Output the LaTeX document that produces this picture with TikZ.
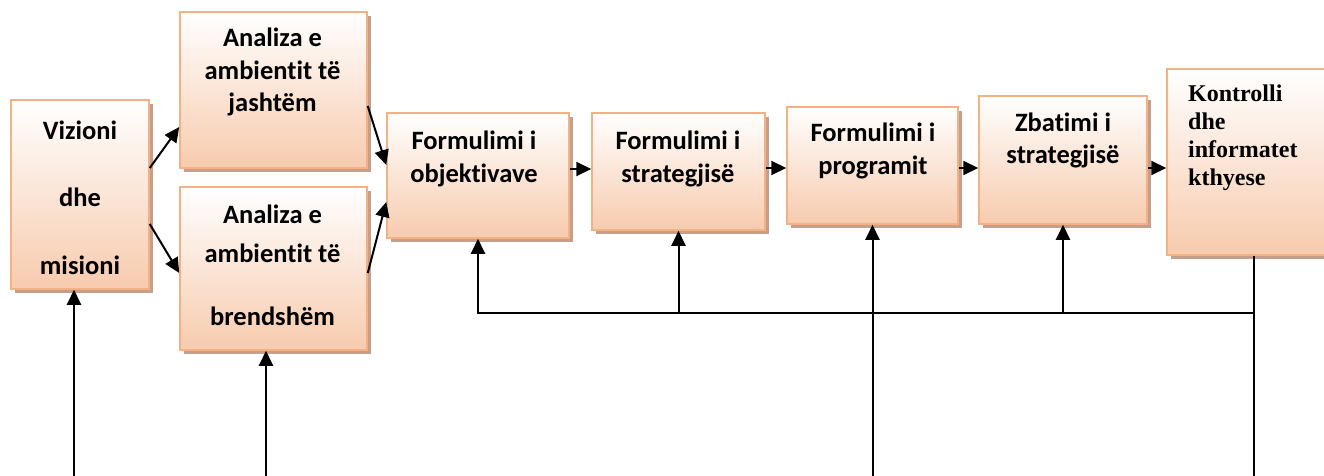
\documentclass[tikz,border=0pt]{standalone}
\usepackage{fontspec}
\setmainfont{Carlito}[Ligatures=NoCommon]
\newfontfamily\serifbold{Liberation Serif}
\usetikzlibrary{arrows.meta, shadows}
\definecolor{boxline}{RGB}{244,177,131}
\definecolor{boxfill}{RGB}{247,203,174}
\definecolor{boxshade}{RGB}{196,160,140}
\tikzset{
    > = {Triangle[length=15pt, width=14pt]},
    box/.style = {draw=boxline, line width=1.5pt, top color=white, bottom color=boxfill,
        drop shadow={shadow xshift=4pt, shadow yshift=-4pt, fill=boxshade, opacity=1},
        inner sep=0pt},
    boxtext/.style = {align=center, inner sep=0pt, anchor=base},
    flow/.style = {->, line width=2pt},
    link/.style = {line width=1.6pt}
}

\begin{document}
\begin{tikzpicture}[x=1pt, y=-1pt]
    \useasboundingbox (0,0) rectangle (1324,476);
    \clip (0,0) rectangle (1324,476);

    \node[box, minimum width=138pt, minimum height=189pt] (viz) at (80,194.5) {};
    \node[box, minimum width=187pt, minimum height=156pt] (ext) at (273.5,90) {};
    \node[box, minimum width=187pt, minimum height=163pt] (int) at (273.5,268.5) {};
    \node[box, minimum width=182pt, minimum height=125pt] (obj) at (478,175.5) {};
    \node[box, minimum width=173pt, minimum height=117pt] (str) at (678.5,171.5) {};
    \node[box, minimum width=171pt, minimum height=117pt] (prog) at (872.5,165.5) {};
    \node[box, minimum width=168pt, minimum height=128pt] (zb) at (1063,160) {};
    \node[box, minimum width=170pt, minimum height=186pt] (kon) at (1252,162) {};

    \node[boxtext, font=\fontsize{26.5}{67.5}\selectfont\bfseries] (viz-t) at (80,274) {Vizioni\\dhe\\misioni};
    \node[boxtext, font=\fontsize{26.5}{32.5}\selectfont\bfseries] (ext-t) at (272.5,112) {Analiza e\\ambientit të\\jashtëm};
    \node[boxtext, font=\fontsize{26.5}{38.5}\selectfont\bfseries] (int-t) at (272.5,325) {Analiza e\\ambientit të\\[24.5pt]brendshëm};
    \node[boxtext, font=\fontsize{26.5}{32.5}\selectfont\bfseries] (obj-t) at (474,182) {Formulimi i\\objektivave};
    \node[boxtext, font=\fontsize{26.5}{32.5}\selectfont\bfseries] (str-t) at (678,182) {Formulimi i\\strategjisë};
    \node[boxtext, font=\fontsize{26.5}{32.5}\selectfont\bfseries] (prog-t) at (873,174) {Formulimi i\\programit};
    \node[boxtext, font=\fontsize{26.5}{32}\selectfont\bfseries] (zb-t) at (1063,163) {Zbatimi i\\strategjisë};
    \node[boxtext, align=left, anchor=base west, font=\serifbold\fontsize{24}{27.7}\selectfont\bfseries] (kon-t) at (1188,185) {Kontrolli\\dhe\\informatet\\kthyese};

    \coordinate (vizin) at (74,476);
    \coordinate (intin) at (266,476);
    \coordinate (progin) at (872.5,476);
    \coordinate (fb) at (1254,313);
    \coordinate (fbend) at (1254,476);

    \draw[flow] ([yshift=26.5pt]viz.east) -- ([yshift=-37pt]ext.west);
    \draw[flow] ([yshift=-29.5pt]viz.east) -- ([yshift=-4.5pt]int.west);
    \draw[flow] ([yshift=-16pt]ext.east) -- ([yshift=10.5pt]obj.west);
    \draw[flow] ([yshift=-4.5pt]int.east) -- ([yshift=-26.5pt]obj.west);
    \draw[flow] ([yshift=6.5pt]obj.east) -- ([yshift=2.5pt]str.west);
    \draw[flow] ([yshift=3.5pt]str.east) -- ([yshift=-2.5pt]prog.west);
    \draw[flow] ([yshift=-2.5pt]prog.east) -- ([yshift=-8pt]zb.west);
    \draw[flow] ([yshift=-8pt]zb.east) -- ([yshift=-6pt]kon.west);

    \draw[flow] (vizin) -- (vizin |- viz.south);
    \draw[flow] (intin) -- (intin |- int.south);
    \draw[flow] (progin) -- (prog.south);
    \draw[link] (kon.south -| fb) -- (fbend);
    \draw[flow] (fb) -- (fb -| obj.south) -- (obj.south);
    \draw[flow] (fb -| str.south) -- (str.south);
    \draw[flow] (fb -| zb.south) -- (zb.south);
\end{tikzpicture}
\end{document}
